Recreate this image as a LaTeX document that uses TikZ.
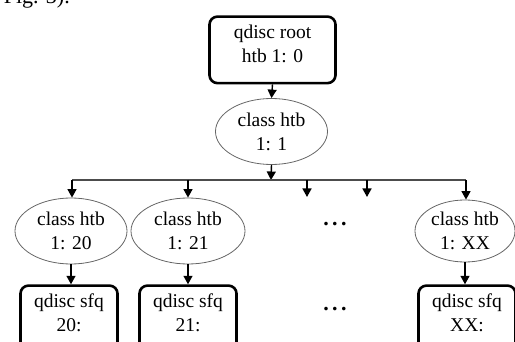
\documentclass[tikz,border=0pt]{standalone}
\usepackage{fontspec}
\setmainfont{Liberation Serif}
\usetikzlibrary{shapes.geometric,arrows.meta}
\begin{document}
\begin{tikzpicture}[x=1pt,y=-1pt,
  lbl/.style={font=\fontsize{19.5}{24}\selectfont, align=center, inner sep=0pt},
  qbox/.style={lbl, draw=black, line width=2.6pt, rounded corners=8pt,
    minimum width=97pt, anchor=north, inner ysep=8.5pt},
  cls/.style={lbl, ellipse, draw=black!60, line width=0.8pt,
    minimum width=112pt, minimum height=66pt},
  arr/.style={-{Triangle[length=8.5pt,width=9pt]}, line width=1.4pt, draw=black},
  bus/.style={line width=1.9pt, draw=black!70},
  dots/.style={font=\fontsize{22}{24}\selectfont\bfseries, inner sep=0pt}]
\useasboundingbox (0,0) rectangle (515,342);

% caption tail of the preceding paragraph
\node[font=\fontsize{22}{26}\selectfont, anchor=base east, inner sep=0pt] (cap) at (70,4) {Fig. 3).};

% root qdisc and its class
\node[qbox, minimum width=126pt, text depth=12pt] (root) at (272.5,15.3) {qdisc root\\htb 1: 0};
\node[cls] (c1) at (271.5,131.5) {class htb\\1: 1};

% distribution bus
\coordinate (j0) at (271,180);
\coordinate (b1) at (72,180);
\coordinate (b2) at (188,180);
\coordinate (b3) at (307,180);
\coordinate (b4) at (367,180);
\coordinate (b5) at (466,180);
\coordinate (e3) at (307,197);
\coordinate (e4) at (367,197);

% leaf classes
\node[cls, minimum width=112pt, minimum height=66pt] (c20) at (71,231) {class htb\\1: 20};
\node[cls, minimum width=114pt, minimum height=66pt] (c21) at (188,231) {class htb\\1: 21};
\node[cls, minimum width=100pt, minimum height=62pt] (cxx) at (465,231) {class htb\\1: XX};

% leaf qdiscs
\node[qbox, text depth=30pt] (q20) at (69,284.3) {qdisc sfq\\20:};
\node[qbox, text depth=30pt] (q21) at (188,284.3) {qdisc sfq\\21:};
\node[qbox, text depth=30pt] (qxx) at (467,284.3) {qdisc sfq\\XX:};

% ellipsis for the omitted classes
\node[dots] (d1) at (335,224) {.\hspace{3.5pt}.\hspace{3.5pt}.};
\node[dots] (d2) at (335,309) {.\hspace{3.5pt}.\hspace{3.5pt}.};

% connectors
\draw[arr] (root.south) -- (c1.north);
\draw[arr] (c1.south) -- (j0);
\draw[bus] (b1) -- (b5);
\draw[arr] (b1) -- (b1 |- c20.north);
\draw[arr] (b2) -- (c21.north);
\draw[arr] (b3) -- (e3);
\draw[arr] (b4) -- (e4);
\draw[arr] (b5) -- (b5 |- cxx.north);
\draw[arr] (c20.south) -- (c20.south |- q20.north);
\draw[arr] (c21.south) -- (q21.north);
\draw[arr] (cxx.south) -- (cxx.south |- qxx.north);
\end{tikzpicture}
\end{document}
